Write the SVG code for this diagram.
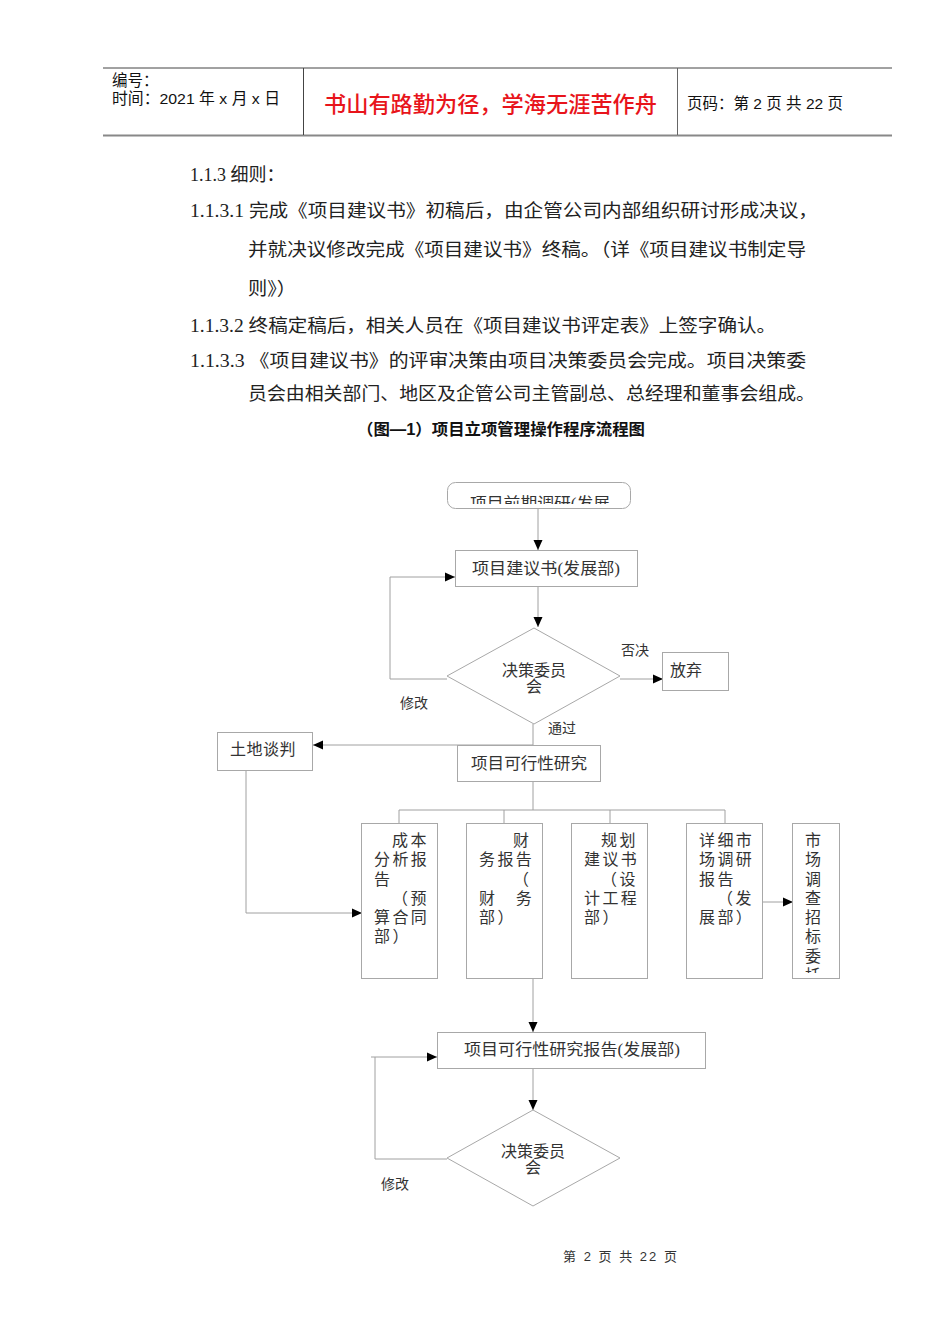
<svg xmlns="http://www.w3.org/2000/svg" width="950" height="1344" viewBox="0 0 950 1344">
<style>
.hd{font-family:"Liberation Sans","Noto Sans CJK SC",sans-serif;font-size:15.5px;fill:#111}
.red{font-family:"Noto Sans CJK SC",sans-serif;font-size:22px;fill:#e8141b;font-weight:500}
.b{font-family:"Liberation Serif","Noto Sans CJK SC",serif;font-size:18px;fill:#222}
.cap{font-family:"Liberation Sans","Noto Sans CJK SC",sans-serif;font-size:16px;font-weight:bold;fill:#111}
.n{font-family:"Liberation Serif","Noto Sans CJK SC",serif;font-size:16px;fill:#333}
.c{font-family:"Liberation Serif","Noto Sans CJK SC",serif;font-size:16px;fill:#333;letter-spacing:2.4px}
.s{font-family:"Liberation Serif","Noto Sans CJK SC",serif;font-size:14px;fill:#333}
.box{fill:#fff;stroke:#a8a8a8;stroke-width:1}
.ln{fill:none;stroke:#a0a0a0;stroke-width:1}
.ft{font-family:"Liberation Sans","Noto Sans CJK SC",sans-serif;font-size:13px;fill:#333}
</style>
<defs>
<marker id="ah" markerUnits="userSpaceOnUse" markerWidth="10" markerHeight="10" viewBox="0 0 10 10" refX="10" refY="5" orient="auto">
<path d="M0,0.5 L10,5 L0,9.5 z" fill="#000"/>
</marker>
<clipPath id="clipTop"><rect x="447" y="482" width="184" height="22"/></clipPath>
<clipPath id="clipB5"><rect x="793" y="823" width="47" height="150"/></clipPath>
</defs>
<rect width="950" height="1344" fill="#fff"/>

<g id="header">
<line x1="103" y1="68" x2="892" y2="68" stroke="#444" stroke-width="1"/>
<line x1="103" y1="135.5" x2="892" y2="135.5" stroke="#888" stroke-width="2"/>
<line x1="303.5" y1="68" x2="303.5" y2="135" stroke="#444" stroke-width="1"/>
<line x1="677.5" y1="68" x2="677.5" y2="135" stroke="#666" stroke-width="1"/>
<text class="hd" x="112" y="86">编号：</text>
<text class="hd" x="112" y="104" textLength="168" lengthAdjust="spacingAndGlyphs">时间：2021 年 x 月 x 日</text>
<text class="red" x="324" y="112" textLength="333" lengthAdjust="spacingAndGlyphs">书山有路勤为径，学海无涯苦作舟</text>
<text class="hd" x="687" y="109" textLength="156" lengthAdjust="spacingAndGlyphs">页码：第 2 页  共 22 页</text>
</g>

<g id="body">
<text class="b" x="190" y="181">1.1.3 细则：</text>
<text class="b" x="190" y="217" textLength="628" lengthAdjust="spacingAndGlyphs">1.1.3.1 完成《项目建议书》初稿后，由企管公司内部组织研讨形成决议，</text>
<text class="b" x="248" y="256" textLength="558" lengthAdjust="spacingAndGlyphs">并就决议修改完成《项目建议书》终稿。（详《项目建议书制定导</text>
<text class="b" x="248" y="295" textLength="48" lengthAdjust="spacingAndGlyphs">则》）</text>
<text class="b" x="190" y="332" textLength="586" lengthAdjust="spacingAndGlyphs">1.1.3.2 终稿定稿后，相关人员在《项目建议书评定表》上签字确认。</text>
<text class="b" x="190" y="367" textLength="616" lengthAdjust="spacingAndGlyphs">1.1.3.3 《项目建议书》的评审决策由项目决策委员会完成。项目决策委</text>
<text class="b" x="248" y="400" textLength="567" lengthAdjust="spacingAndGlyphs">员会由相关部门、地区及企管公司主管副总、总经理和董事会组成。</text>
<text class="cap" x="357" y="435" textLength="288" lengthAdjust="spacingAndGlyphs">（图—1）项目立项管理操作程序流程图</text>
</g>

<g id="connectors">
<line class="ln" x1="538" y1="509" x2="538" y2="550" marker-end="url(#ah)"/>
<line class="ln" x1="538" y1="587" x2="538" y2="627" marker-end="url(#ah)"/>
<polyline class="ln" points="447,679 390,679 390,577 455,577" marker-end="url(#ah)"/>
<line class="ln" x1="620" y1="679" x2="663" y2="679" marker-end="url(#ah)"/>
<line class="ln" x1="533" y1="724" x2="533" y2="746"/>
<line class="ln" x1="533" y1="745" x2="313" y2="745" marker-end="url(#ah)"/>
<polyline class="ln" points="246,742 246,913 362,913" marker-end="url(#ah)"/>
<line class="ln" x1="533" y1="782" x2="533" y2="810"/>
<line class="ln" x1="399" y1="810" x2="725" y2="810"/>
<line class="ln" x1="399" y1="810" x2="399" y2="823"/>
<line class="ln" x1="504" y1="810" x2="504" y2="823"/>
<line class="ln" x1="610" y1="810" x2="610" y2="823"/>
<line class="ln" x1="725" y1="810" x2="725" y2="823"/>
<line class="ln" x1="763" y1="902" x2="793" y2="902" marker-end="url(#ah)"/>
<line class="ln" x1="533" y1="979" x2="533" y2="1032" marker-end="url(#ah)"/>
<line class="ln" x1="533" y1="1068" x2="533" y2="1110" marker-end="url(#ah)"/>
<polyline class="ln" points="447,1159 375,1159 375,1057"/>
<line class="ln" x1="371" y1="1057" x2="437" y2="1057" marker-end="url(#ah)"/>
<text class="s" x="400" y="708">修改</text>
<text class="s" x="621" y="655">否决</text>
<text class="s" x="548" y="733">通过</text>
<text class="s" x="381" y="1189">修改</text>
</g>

<g id="n-research">
<rect class="box" x="447.5" y="482.5" width="183" height="26" rx="8"/>
<text class="n" x="470" y="509" font-size="15" fill="#555" textLength="140" lengthAdjust="spacingAndGlyphs" clip-path="url(#clipTop)">项目前期调研(发展</text>
</g>

<g id="n-proposal">
<rect class="box" x="455.5" y="550.5" width="182" height="36"/>
<text class="n" x="472" y="574" textLength="148" lengthAdjust="spacingAndGlyphs">项目建议书(发展部)</text>
</g>

<g id="n-decision1">
<polygon class="box" points="534,628 620,676 534,724 447,676"/>
<text class="n" x="534" y="676" text-anchor="middle" font-size="15.5">决策委员</text>
<text class="n" x="534" y="692" text-anchor="middle" font-size="15.5">会</text>
</g>

<g id="n-abandon">
<rect class="box" x="662.5" y="652.5" width="66" height="38"/>
<text class="n" x="670" y="676">放弃</text>
</g>

<g id="n-land">
<rect class="box" x="217.5" y="732.5" width="95" height="38"/>
<text class="n" x="230" y="755" letter-spacing="0.5">土地谈判</text>
</g>

<g id="n-feasibility">
<rect class="box" x="457.5" y="745.5" width="143" height="36"/>
<text class="n" x="471" y="769" textLength="116" lengthAdjust="spacingAndGlyphs">项目可行性研究</text>
</g>

<g id="n-cost">
<rect class="box" x="361.5" y="823.5" width="76" height="155"/>
<text class="c" x="392" y="846">成本</text>
<text class="c" x="374" y="865">分析报</text>
<text class="c" x="374" y="885">告</text>
<text class="c" x="392" y="904">（预</text>
<text class="c" x="374" y="923">算合同</text>
<text class="c" x="374" y="942">部）</text>
</g>

<g id="n-finance">
<rect class="box" x="466.5" y="823.5" width="76" height="155"/>
<text class="c" x="513" y="846">财</text>
<text class="c" x="479" y="865">务报告</text>
<text class="c" x="513" y="885">（</text>
<text class="c" x="479" y="904">财　务</text>
<text class="c" x="479" y="923">部）</text>
</g>

<g id="n-plan">
<rect class="box" x="571.5" y="823.5" width="76" height="155"/>
<text class="c" x="601" y="846">规划</text>
<text class="c" x="584" y="865">建议书</text>
<text class="c" x="601" y="885">（设</text>
<text class="c" x="584" y="904">计工程</text>
<text class="c" x="584" y="923">部）</text>
</g>

<g id="n-market">
<rect class="box" x="686.5" y="823.5" width="76" height="155"/>
<text class="c" x="699" y="846">详细市</text>
<text class="c" x="699" y="865">场调研</text>
<text class="c" x="699" y="885">报告</text>
<text class="c" x="717" y="904">（发</text>
<text class="c" x="699" y="923">展部）</text>
</g>

<g id="n-tender">
<rect class="box" x="792.5" y="823.5" width="47" height="155"/>
<g clip-path="url(#clipB5)">
<text class="n" x="805" y="846">市</text>
<text class="n" x="805" y="865">场</text>
<text class="n" x="805" y="885">调</text>
<text class="n" x="805" y="904">查</text>
<text class="n" x="805" y="923">招</text>
<text class="n" x="805" y="942">标</text>
<text class="n" x="805" y="962">委</text>
<text class="n" x="805" y="981">托</text>
</g>
</g>

<g id="n-report">
<rect class="box" x="437.5" y="1032.5" width="268" height="36"/>
<text class="n" x="464" y="1055" textLength="216" lengthAdjust="spacingAndGlyphs">项目可行性研究报告(发展部)</text>
</g>

<g id="n-decision2">
<polygon class="box" points="533,1110 620,1158 533,1206 447,1158"/>
<text class="n" x="533" y="1157" text-anchor="middle" font-size="15.5">决策委员</text>
<text class="n" x="533" y="1173" text-anchor="middle" font-size="15.5">会</text>
</g>

<g id="footer">
<text class="ft" x="563" y="1261" textLength="114" lengthAdjust="spacing">第 2 页 共 22 页</text>
</g>
</svg>
